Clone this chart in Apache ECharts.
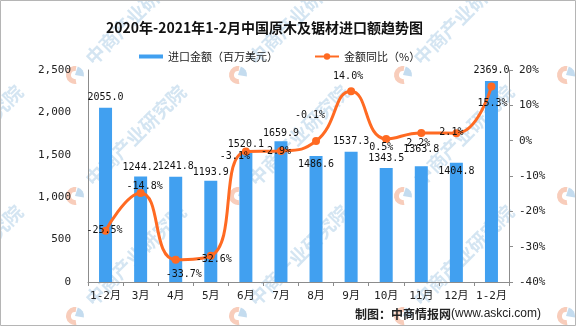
<!DOCTYPE html>
<html><head><meta charset="utf-8">
<script src="https://cdn.jsdelivr.net/npm/echarts@6/dist/echarts.min.js"></script>
<style>html,body{margin:0;padding:0;background:#fff}#c{width:576px;height:326px}</style>
</head><body><div id="c"></div>
<script>
// ---- data ----
const categories = ['1-2月','3月','4月','5月','6月','7月','8月','9月','10月','11月','12月','1-2月'];
const importValue = [2055.0,1244.2,1241.8,1193.9,1520.1,1659.9,1486.6,1537.3,1343.5,1363.8,1404.8,2369.0];
const yoyGrowth = [-25.5,-14.8,-33.7,-32.6,-3.1,-2.9,-0.1,14.0,0.5,2.2,2.1,15.3];
const leftAxis = {min: 0, max: 2500, interval: 500};
const rightAxis = {min: -40, max: 20, interval: 10};
const seriesNames = ['进口金额（百万美元）', '金额同比（%）'];

// ---- label placement (style only) ----
const barLabelDy = [-10,-9.5,-10,-8,-9,-8,8,-10,-10,-17,9,-11];
const lineLabelOff = [[-1,0],[4,-7],[8,15],[3,4],[-11,5],[-5,0],[-6,-26],[-3,-15],[-5,9],[-3,11],[-5,-1],[1,17]];

// ---- watermark tile (decoration) ----
const wmCols = [-88, 75, 238, 403, 566];
const wmRows = [75, 196, 316];

const mono = '"DejaVu Sans Mono","Noto Sans CJK SC",monospace';
const AX = '#8c8c8c';

const watermarks = [];
wmRows.forEach(y => wmCols.forEach(x => {
  watermarks.push({
    type: 'group', x: x, y: y, z: -10, silent: true,
    children: [
      {type: 'sector', shape: {cx: 0, cy: 0, r: 9, r0: 4, startAngle: Math.PI * 0.45, endAngle: Math.PI * 1.55},
        style: {fill: '#f8cdbb'}, z: -10},
      {type: 'sector', shape: {cx: 0, cy: 0, r: 9, r0: 0, startAngle: Math.PI * 1.6, endAngle: Math.PI * 2.05},
        style: {fill: '#c4dcef'}, z: -10},
      {type: 'text', rotation: Math.PI / 4, x: 0, y: 0, z: -10,
        style: {text: '    中商产业研究院', x: 2, y: 0, verticalAlign: 'middle',
          font: 'bold 19px "Noto Sans CJK SC"', fill: '#d4e5f2'}}
    ]
  });
}));

const chart = echarts.init(document.getElementById('c'), null, {renderer: 'canvas'});
chart.setOption({
  animation: false,
  backgroundColor: '#fff',
  title: {
    text: '2020年-2021年1-2月中国原木及锯材进口额趋势图',
    left: 101, top: 16,
    textStyle: {fontFamily: '"Noto Sans CJK SC"', fontWeight: 'bold', fontSize: 14, color: '#111'}
  },
  legend: {
    left: 134, top: 46,
    itemWidth: 24, itemHeight: 8, itemGap: 36,
    textStyle: {fontFamily: '"Noto Sans CJK SC"', fontSize: 11, color: '#222'},
    data: [
      {name: seriesNames[0], icon: 'path://M0,0H24V4H0Z'},
      {name: seriesNames[1]}
    ]
  },
  grid: {left: 88, right: 67, top: 70, bottom: 44, containLabel: false},
  xAxis: {
    type: 'category', data: categories,
    axisLine: {lineStyle: {color: AX}},
    axisTick: {show: true, length: 4, lineStyle: {color: AX}},
    axisLabel: {fontFamily: mono, fontSize: 11, color: '#222', margin: 9, interval: 0}
  },
  yAxis: [{
    type: 'value', min: leftAxis.min, max: leftAxis.max, interval: leftAxis.interval,
    splitLine: {show: false},
    axisLine: {show: true, lineStyle: {color: AX}},
    axisTick: {show: false},
    axisLabel: {fontFamily: mono, fontSize: 11, color: '#222', margin: 17,
      formatter: v => v.toLocaleString('en-US')}
  }, {
    type: 'value', min: rightAxis.min, max: rightAxis.max, interval: rightAxis.interval,
    position: 'right',
    splitLine: {show: false},
    axisLine: {show: true, lineStyle: {color: AX}},
    axisTick: {show: true, length: 4, lineStyle: {color: AX}},
    axisLabel: {fontFamily: mono, fontSize: 11, color: '#222', margin: 10,
      formatter: v => v + '%'}
  }],
  series: [{
    name: seriesNames[0], type: 'bar', barWidth: 13,
    itemStyle: {color: '#41A0F0'},
    data: importValue.map((v, i) => ({value: v, label: {offset: [0, barLabelDy[i]]}})),
    label: {show: true, position: ['50%', 0], align: 'center', verticalAlign: 'middle',
      fontFamily: mono, fontSize: 10, color: '#111', formatter: p => p.value.toFixed(1)},
    z: 2
  }, {
    name: seriesNames[1], type: 'line', yAxisIndex: 1, smooth: 0.5,
    symbol: 'circle', symbolSize: 8,
    lineStyle: {color: '#FF6A22', width: 3},
    itemStyle: {color: '#FF6A22'},
    data: yoyGrowth.map((v, i) => ({value: v, label: {offset: lineLabelOff[i]}})),
    label: {show: true, position: 'inside', fontFamily: mono, fontSize: 10, color: '#111',
      formatter: p => p.value.toFixed(1) + '%'},
    z: 3
  }],
  graphic: watermarks.concat([{
    type: 'rect', shape: {x: 0.5, y: 0.5, width: 575, height: 325},
    style: {fill: 'none', stroke: '#b5b5b5', lineWidth: 1}, silent: true
  }, {
    type: 'text', left: 355, top: 308,
    style: {
      text: '{a|制图：中商情报网}{b|(www.askci.com)}',
      rich: {
        a: {fontFamily: '"Noto Sans CJK SC"', fontSize: 12, fontWeight: 'bold', fill: '#222'},
        b: {fontFamily: '"Liberation Sans"', fontSize: 12, fill: '#222'}
      }
    }
  }])
});
</script></body></html>
